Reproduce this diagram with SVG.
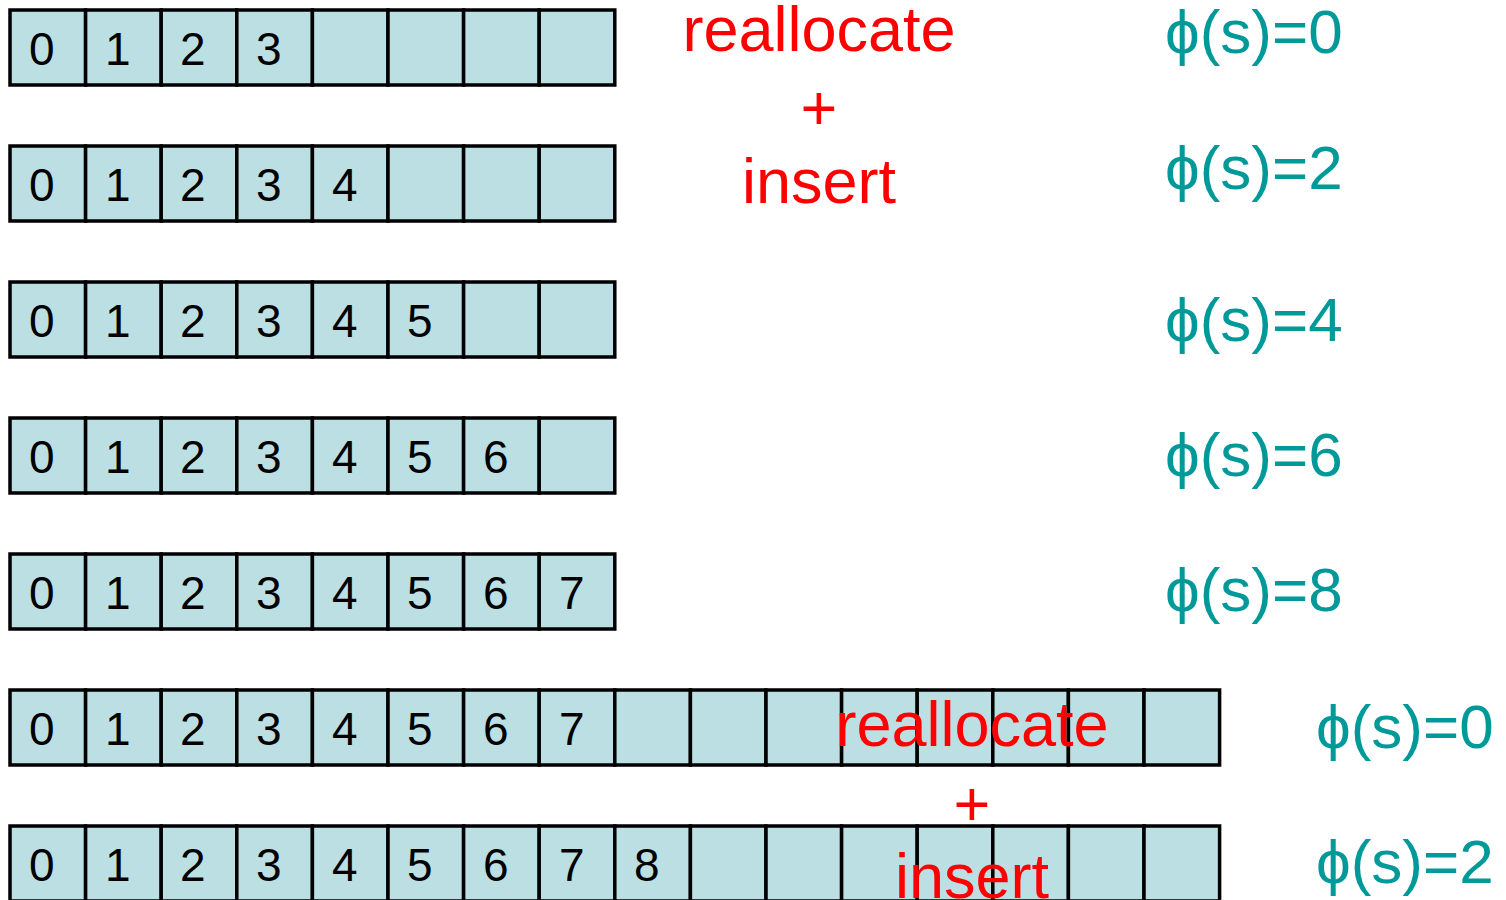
<svg xmlns="http://www.w3.org/2000/svg" width="1506" height="900" viewBox="0 0 1506 900">
<style>
.c{fill:#BBDFE3;stroke:#000;stroke-width:3.5}
.n{font-family:"Liberation Sans",Arial,sans-serif;font-size:46px;fill:#000}
.p{font-family:"Liberation Sans",Arial,sans-serif;font-size:62px;fill:#009999}
.r{font-family:"Liberation Sans",Arial,sans-serif;font-size:63px;fill:#FF0000;text-anchor:middle}
</style>
<defs>
<g id="cell8">
<rect class="c" x="10" y="0" width="75.6" height="75"/>
<rect class="c" x="85.6" y="0" width="75.6" height="75"/>
<rect class="c" x="161.2" y="0" width="75.6" height="75"/>
<rect class="c" x="236.8" y="0" width="75.6" height="75"/>
<rect class="c" x="312.4" y="0" width="75.6" height="75"/>
<rect class="c" x="388" y="0" width="75.6" height="75"/>
<rect class="c" x="463.6" y="0" width="75.6" height="75"/>
<rect class="c" x="539.2" y="0" width="75.6" height="75"/>
</g>
<g id="cell16">
<use href="#cell8"/>
<use href="#cell8" x="604.8"/>
</g>
</defs>
<rect width="1506" height="900" fill="#fff"/>

<g id="row1" transform="translate(0,10)">
<use href="#cell8"/>
<g class="n"><text x="29" y="55">0</text><text x="105" y="55">1</text><text x="180" y="55">2</text><text x="256" y="55">3</text></g>
</g>
<g id="row2" transform="translate(0,146)">
<use href="#cell8"/>
<g class="n"><text x="29" y="55">0</text><text x="105" y="55">1</text><text x="180" y="55">2</text><text x="256" y="55">3</text><text x="332" y="55">4</text></g>
</g>
<g id="row3" transform="translate(0,282)">
<use href="#cell8"/>
<g class="n"><text x="29" y="55">0</text><text x="105" y="55">1</text><text x="180" y="55">2</text><text x="256" y="55">3</text><text x="332" y="55">4</text><text x="407" y="55">5</text></g>
</g>
<g id="row4" transform="translate(0,418)">
<use href="#cell8"/>
<g class="n"><text x="29" y="55">0</text><text x="105" y="55">1</text><text x="180" y="55">2</text><text x="256" y="55">3</text><text x="332" y="55">4</text><text x="407" y="55">5</text><text x="483" y="55">6</text></g>
</g>
<g id="row5" transform="translate(0,554)">
<use href="#cell8"/>
<g class="n"><text x="29" y="55">0</text><text x="105" y="55">1</text><text x="180" y="55">2</text><text x="256" y="55">3</text><text x="332" y="55">4</text><text x="407" y="55">5</text><text x="483" y="55">6</text><text x="559" y="55">7</text></g>
</g>
<g id="row6" transform="translate(0,690)">
<use href="#cell16"/>
<g class="n"><text x="29" y="55">0</text><text x="105" y="55">1</text><text x="180" y="55">2</text><text x="256" y="55">3</text><text x="332" y="55">4</text><text x="407" y="55">5</text><text x="483" y="55">6</text><text x="559" y="55">7</text></g>
</g>
<g id="row7" transform="translate(0,826)">
<use href="#cell16"/>
<g class="n"><text x="29" y="55">0</text><text x="105" y="55">1</text><text x="180" y="55">2</text><text x="256" y="55">3</text><text x="332" y="55">4</text><text x="407" y="55">5</text><text x="483" y="55">6</text><text x="559" y="55">7</text><text x="634" y="55">8</text></g>
</g>

<g id="label-top">
<text class="r" x="819" y="51">reallocate</text>
<text class="r" x="819" y="130">+</text>
<text class="r" x="819" y="203">insert</text>
</g>
<g id="label-bottom">
<text class="r" x="972" y="746">reallocate</text>
<text class="r" x="972" y="826">+</text>
<text class="r" x="972" y="898">insert</text>
</g>

<g id="potentials" class="p">
<text x="1165" y="53">ϕ(s)=0</text>
<text x="1165" y="189">ϕ(s)=2</text>
<text x="1165" y="341">ϕ(s)=4</text>
<text x="1165" y="476">ϕ(s)=6</text>
<text x="1165" y="611">ϕ(s)=8</text>
<text x="1316" y="748">ϕ(s)=0</text>
<text x="1316" y="883">ϕ(s)=2</text>
</g>
</svg>
